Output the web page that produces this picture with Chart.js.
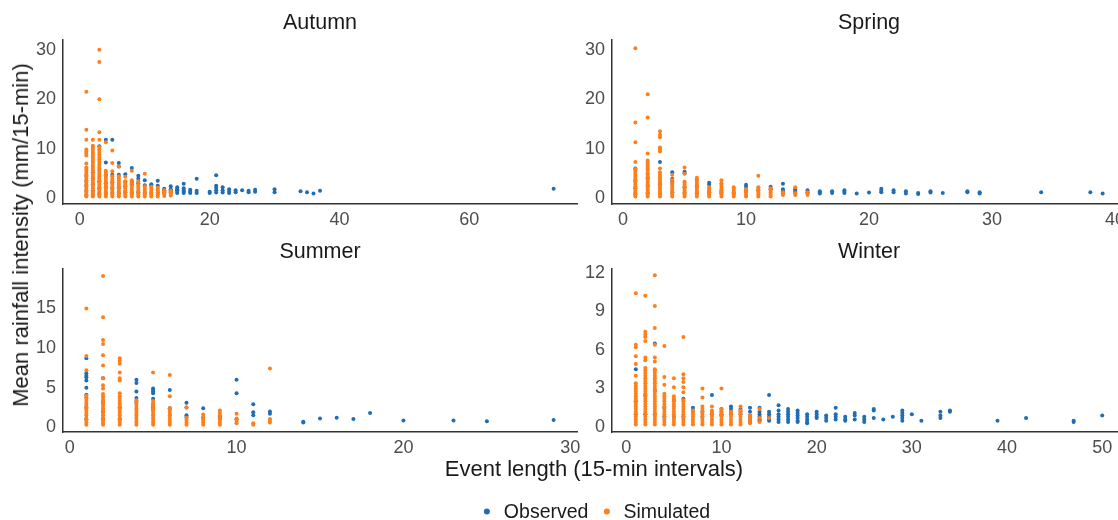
<!DOCTYPE html>
<html>
<head>
<meta charset="utf-8">
<script src="https://cdn.jsdelivr.net/npm/chart.js@4/dist/chart.umd.min.js"></script>
<style>
html,body{margin:0;padding:0;background:#fff;}
body{width:1118px;height:520px;position:relative;overflow:hidden;font-family:"Liberation Sans",Arial,Helvetica,sans-serif;}
canvas{position:absolute;}
.txt{position:absolute;white-space:nowrap;color:#1a1a1a;transform:translate(-50%,-50%);line-height:1;}
.ptitle{font-size:21.5px;}
.atitle{font-size:22px;}
.legend{position:absolute;left:597px;top:511px;transform:translate(-50%,-50%);font-size:19.5px;color:#1a1a1a;white-space:nowrap;display:flex;align-items:center;}
.dot{display:inline-block;width:6px;height:6px;border-radius:50%;margin:0 14px 0 0;}
</style>
</head>
<body>
<script>
// ---------------- DATA ----------------
const seriesNames = ["Observed", "Simulated"];
const seriesColors = ["#1f6db5", "#ff7f1a"];
const panelTitles = ["Autumn", "Spring", "Summer", "Winter"];

// x ticks / y ticks for each panel
const autumnXTicks = [0, 20, 40, 60];
const autumnYTicks = [0, 10, 20, 30];
const springXTicks = [0, 10, 20, 30, 40];
const springYTicks = [0, 10, 20, 30];
const summerXTicks = [0, 10, 20, 30];
const summerYTicks = [0, 5, 10, 15];
const winterXTicks = [0, 10, 20, 30, 40, 50];
const winterYTicks = [0, 3, 6, 9, 12];

// [event length, [mean intensities]]
const autumnSimulated = [
  [1, [0.3,0.7,1.1,1.5,1.9,2.3,2.7,3.1,3.5,3.9,4.3,4.7,5.1,5.5,5.9,6.2,7.0,8.6,9.0,9.4,9.8,11.8,13.8,21.5]],
  [2, [0.3,0.7,1.1,1.5,1.9,2.3,2.7,3.1,3.5,3.9,4.3,4.7,5.1,5.5,5.9,6.3,6.7,7.1,7.5,7.9,8.3,8.7,9.1,9.5,9.9,10.3,10.6,11.8]],
  [3, [0.3,0.7,1.1,1.5,1.9,2.3,2.7,3.1,3.5,3.9,4.3,4.7,5.1,5.5,5.9,6.3,6.8,7.3,7.8,8.3,8.8,9.3,9.8,10.3,11.8,13.3,20.0,27.5,30.0]],
  [4, [0.3,0.7,1.1,1.5,1.9,2.3,2.7,3.1,3.5,3.9,4.3,4.7,5.1,5.5,11.3]],
  [5, [0.3,0.7,1.1,1.5,1.9,2.3,2.7,3.1,3.5,3.9,4.4,5.4,7.1,9.6]],
  [6, [0.3,0.7,1.1,1.5,1.9,2.3,2.7,3.1,3.5,3.9,4.4,6.4]],
  [7, [0.3,0.7,1.1,1.5,1.9,2.3,2.7,3.1,3.4,4.3]],
  [8, [0.3,0.7,1.1,1.5,1.9,2.3,2.7,3.0,3.6,5.5]],
  [9, [0.3,0.7,1.1,1.5,1.9,2.3,2.7,3.4]],
  [10, [0.3,0.7,1.1,1.5,1.9,2.4,4.9]],
  [11, [0.3,0.7,1.1,1.5,1.9,2.3]],
  [12, [0.3,0.7,1.1,1.5,1.8,2.1]],
  [13, [0.4,0.8,1.2,1.6]],
  [14, [0.5,0.9,1.2,1.5]]
];
const autumnObserved = [
  [1, [0.5,1.5,2.5,3.5,4.5]],
  [2, [0.6,1.6,2.8,4.0,5.2]],
  [3, [0.8,2.0,3.4,10.5]],
  [4, [1.0,2.2,3.0,4.6,7.2,11.8]],
  [5, [1.0,2.0,3.2,4.7,11.8]],
  [6, [1.0,2.2,4.7,6.4,7.1]],
  [7, [1.2,2.4,3.3,4.8]],
  [8, [1.0,2.8,3.3,6.1]],
  [9, [1.2,3.0,3.9,4.5]],
  [10, [1.0,2.6,3.6]],
  [11, [1.0,2.5,2.8]],
  [12, [1.0,2.5,3.5]],
  [13, [1.0,1.3,1.6,1.9]],
  [14, [1.0,1.3,1.6,1.8,2.4]],
  [15, [1.0,1.3,1.6,1.8,2.2]],
  [16, [1.0,1.3,1.6,2.0,2.9]],
  [17, [1.0,1.3,1.7]],
  [18, [1.0,1.5,3.9]],
  [20, [1.0,1.3]],
  [21, [1.1,1.6,2.1,2.5,4.6]],
  [22, [1.1,1.6,2.2]],
  [23, [1.0,1.3,1.8]],
  [24, [1.2,1.6]],
  [25, [1.6]],
  [26, [1.2,1.5]],
  [27, [1.3,1.7]],
  [30, [1.2,1.8]],
  [34, [1.4]],
  [35, [1.2]],
  [36, [0.9]],
  [37, [1.5]],
  [73, [1.9]]
];

const springSimulated = [
  [1, [0.3,0.7,1.1,1.5,1.9,2.3,2.7,3.1,3.5,3.9,4.3,4.7,5.1,5.5,5.9,7.3,11.3,15.3,30.3]],
  [2, [0.3,0.7,1.1,1.5,1.9,2.3,2.7,3.1,3.5,3.9,4.3,4.7,5.0,5.6,6.0,6.4,6.8,7.2,7.6,9.0,16.3,21.0]],
  [3, [0.3,0.7,1.1,1.5,1.9,2.3,2.7,3.1,3.5,3.9,4.3,4.7,5.2,6.0,9.4,9.8,10.2,12.3,12.8,13.5]],
  [4, [0.3,0.7,1.1,1.5,1.9,2.3,2.7,3.0,3.7,4.7]],
  [5, [0.3,0.7,1.1,1.5,1.9,2.3,2.7,3.1,3.3,4.9,6.2]],
  [6, [0.3,0.7,1.1,1.5,1.9,2.3,2.7,3.1,3.5,3.8,4.1]],
  [7, [0.3,0.7,1.1,1.5,1.9,2.2]],
  [8, [0.3,0.7,1.1,1.5,1.9,2.3,2.7,3.0,3.6]],
  [9, [0.3,0.7,1.1,1.5,1.9,2.2]],
  [10, [0.3,0.7,1.1,1.5,1.8]],
  [11, [0.3,0.7,1.1,1.5,1.9,2.2,4.5]],
  [12, [0.3,0.7,1.1,1.5,2.0]],
  [13, [0.6,0.9,1.2]],
  [14, [0.6,1.0,2.2]],
  [15, [0.6,0.9,1.2]]
];
const springObserved = [
  [1, [0.8,2.0,3.5,6.0]],
  [2, [1.0,2.5,4.0]],
  [3, [1.0,2.8,7.3]],
  [4, [1.2,3.3,3.9,5.2]],
  [5, [1.0,2.2,5.0,5.3]],
  [6, [1.0,2.4]],
  [7, [1.2,2.7,3.1]],
  [8, [1.0,1.5]],
  [9, [1.0]],
  [10, [1.6,2.3,2.7]],
  [11, [1.6]],
  [12, [1.8,2.3]],
  [13, [1.0,1.4,1.8,2.9]],
  [14, [1.0,1.4,1.8]],
  [15, [1.2,1.6]],
  [16, [0.9,1.1,1.4]],
  [17, [1.0,1.4]],
  [18, [1.0,1.3,1.6]],
  [19, [0.9]],
  [20, [1.1]],
  [21, [1.2,1.5,1.9]],
  [22, [1.2,1.6]],
  [23, [0.9,1.4]],
  [24, [0.8,1.0]],
  [25, [1.1,1.4]],
  [26, [1.0]],
  [28, [1.2,1.4]],
  [29, [0.9,1.2]],
  [34, [1.2]],
  [38, [1.2]],
  [39, [0.9]]
];

const summerSimulated = [
  [1, [0.3,0.6,0.9,1.2,1.5,1.8,2.1,2.4,2.7,3.0,3.3,3.6,3.8,4.0,7.2,9.0,15.0]],
  [2, [0.3,0.6,0.9,1.2,1.5,1.8,2.1,2.4,2.7,3.0,3.3,3.6,3.9,4.2,4.9,5.3,6.2,7.8,9.1,10.5,11.0,13.9,19.1]],
  [3, [0.3,0.6,0.9,1.2,1.5,1.8,2.1,2.4,2.7,3.0,3.3,3.6,3.9,4.3,5.9,6.2,6.9,8.0,8.4,8.7]],
  [4, [0.3,0.6,0.9,1.2,1.5,1.8,2.1,2.4,2.7,3.0,3.4]],
  [5, [0.3,0.6,0.9,1.2,1.5,1.8,2.1,2.4,2.7,3.0,3.3,6.9]],
  [6, [0.3,0.6,0.9,1.2,1.5,1.8,2.1,2.4,3.9,6.6]],
  [7, [0.3,0.6,0.9,1.2,2.5]],
  [8, [0.3,0.6,0.9,1.2,1.6]],
  [9, [0.3,0.6,0.9,1.2,1.5,1.8,2.1]],
  [10, [0.5,0.8,1.1,1.7]],
  [11, [0.3,0.5]],
  [12, [0.6,0.8,1.05,7.4]]
];
const summerObserved = [
  [1, [1.0,2.5,4.1,5.0,5.9,6.3,6.5,6.8,8.7]],
  [2, [1.0,2.0,3.2,6.2]],
  [3, [1.0,2.5]],
  [4, [3.2,3.7,4.5,5.6,6.0]],
  [5, [2.2,2.5,2.8,3.6,4.3,4.5,4.7,4.9]],
  [6, [2.4,4.7]],
  [7, [1.3,1.5,2.5,3.1]],
  [8, [1.2,2.4]],
  [9, [1.1,1.4]],
  [10, [1.0,4.3,6.0]],
  [11, [1.5,1.9,2.9]],
  [12, [1.7,2.0]],
  [14, [0.6,0.7]],
  [15, [1.1]],
  [16, [1.2]],
  [17, [1.05]],
  [18, [1.8]],
  [20, [0.84]],
  [23, [0.84]],
  [25, [0.76]],
  [29, [0.92]]
];

const winterSimulated = [
  [1, [0.2,0.4,0.6,0.8,1.0,1.2,1.4,1.6,1.8,2.0,2.2,2.4,2.6,2.8,3.0,3.2,3.4,4.0,4.9,5.5,6.2,6.4,10.4]],
  [2, [0.2,0.4,0.6,0.8,1.0,1.2,1.4,1.6,1.8,2.0,2.2,2.4,2.6,2.8,3.0,3.2,3.4,3.6,3.8,4.0,4.2,4.4,4.6,5.2,5.4,6.7,7.0,7.2,7.4,10.2]],
  [3, [0.2,0.4,0.6,0.8,1.0,1.2,1.4,1.6,1.8,2.0,2.2,2.4,2.6,2.8,3.0,3.2,3.4,3.6,3.8,4.0,4.2,4.4,4.5,5.1,5.4,6.4,7.7,9.4,11.8]],
  [4, [0.2,0.4,0.6,0.8,1.0,1.2,1.4,1.6,1.8,2.0,2.2,2.4,2.6,3.3,3.9,6.3]],
  [5, [0.2,0.4,0.6,0.8,1.0,1.2,1.4,1.6,1.8,2.0,2.2,2.4,3.1,3.8]],
  [6, [0.2,0.4,0.6,0.8,1.0,1.2,1.4,1.6,1.8,2.0,2.1,2.7,3.1,3.5,3.8,4.1,7.0]],
  [7, [0.2,0.4,0.6,0.8,1.0,1.2,1.3]],
  [8, [0.2,0.4,0.6,0.8,1.0,1.2,1.4,1.6,2.3,3.0]],
  [9, [0.2,0.4,0.6,0.8,1.0,1.2,1.3,1.6]],
  [10, [0.2,0.4,0.6,0.8,1.0,1.2,1.4,3.0]],
  [11, [0.2,0.4,0.6,0.8,1.0,1.2]],
  [12, [0.2,0.4,0.6,0.8,1.0,1.2,1.3,1.6]],
  [13, [0.3,0.5,0.7,0.9]],
  [14, [0.4,0.7,1.4]],
  [15, [0.7]]
];
const winterObserved = [
  [1, [1.0,2.0,4.5]],
  [2, [1.0,2.5]],
  [3, [1.0,2.8,6.5]],
  [4, [0.8,1.5]],
  [5, [0.8,2.1]],
  [6, [0.8,2.2]],
  [7, [1.3,1.5]],
  [8, [0.8,1.2]],
  [9, [1.0,2.5]],
  [10, [0.9,1.0,1.2,1.4]],
  [11, [1.0,1.2,1.4,1.6]],
  [12, [1.0,1.2,1.4]],
  [13, [0.4,0.5,0.7,0.9,1.2,1.5]],
  [14, [0.5,0.6,0.8,1.0,1.2,1.5]],
  [15, [0.5,0.6,0.8,1.0,1.2,2.5]],
  [16, [0.4,0.6,0.8,1.0,1.3,1.7]],
  [17, [0.4,0.6,0.8,1.0,1.2,1.4]],
  [18, [0.4,0.5,0.7,0.9,1.1,1.3]],
  [19, [0.3,0.4,0.6,0.8,1.0]],
  [20, [0.7,0.8,1.0,1.2]],
  [21, [0.5,0.7,0.9]],
  [22, [0.6,0.8,1.0,1.5]],
  [23, [0.5,0.6,0.8]],
  [24, [0.6,0.9,1.1]],
  [25, [0.4,0.6,0.8]],
  [26, [0.7,1.3,1.4]],
  [27, [0.6]],
  [28, [0.8]],
  [29, [0.5,0.7,0.9,1.1,1.3]],
  [30, [1.0]],
  [31, [0.5]],
  [33, [0.7,0.9,1.2]],
  [34, [1.2,1.3]],
  [39, [0.5]],
  [42, [0.7]],
  [47, [0.4,0.5]],
  [50, [0.9]]
];

// ---------------- LAYOUT ----------------
const panels = [
  {title: panelTitles[0], obs: autumnObserved, sim: autumnSimulated, xt: autumnXTicks, yt: autumnYTicks,
   xmin: -2.6, xmax: 76.6, ymin: -1.2, ymax: 32.0, l: 63, t: 38, r: 577, b: 204},
  {title: panelTitles[1], obs: springObserved, sim: springSimulated, xt: springXTicks, yt: springYTicks,
   xmin: -0.9, xmax: 40.9, ymin: -1.2, ymax: 32.0, l: 612, t: 38, r: 1126, b: 204},
  {title: panelTitles[2], obs: summerObserved, sim: summerSimulated, xt: summerXTicks, yt: summerYTicks,
   xmin: -0.4, xmax: 30.4, ymin: -0.6, ymax: 20.0, l: 63, t: 267, r: 577, b: 432},
  {title: panelTitles[3], obs: winterObserved, sim: winterSimulated, xt: winterXTicks, yt: winterYTicks,
   xmin: -1.5, xmax: 52.5, ymin: -0.38, ymax: 12.3, l: 612, t: 267, r: 1126, b: 432}
];

const YW = 50, XH = 36, PT = 16, PR = 14;
const tickFont = {family: "'Liberation Sans', Arial, sans-serif", size: 18};
const tickColor = '#4d4d4d';
const axisColor = '#333333';

function flatten(groups) {
  const out = [];
  groups.forEach(([x, ys]) => ys.forEach(y => out.push({x: x, y: y})));
  return out;
}

function addText(cls, text, x, y, extra) {
  const d = document.createElement('div');
  d.className = 'txt ' + cls;
  d.textContent = text;
  d.style.left = x + 'px';
  d.style.top = y + 'px';
  if (extra) d.style.transform = extra;
  document.body.appendChild(d);
}

panels.forEach(p => {
  const c = document.createElement('canvas');
  const w = (p.r - p.l) + YW + PR;
  const h = (p.b - p.t) + PT + XH;
  c.width = w; c.height = h;
  c.style.left = (p.l - YW) + 'px';
  c.style.top = (p.t - PT) + 'px';
  c.style.width = w + 'px'; c.style.height = h + 'px';
  document.body.appendChild(c);

  new Chart(c.getContext('2d'), {
    type: 'scatter',
    data: {
      datasets: [
        {label: seriesNames[0], data: flatten(p.obs), order: 1,
         pointBackgroundColor: seriesColors[0], pointBorderWidth: 0, pointRadius: 2, pointHoverRadius: 2},
        {label: seriesNames[1], data: flatten(p.sim), order: 0,
         pointBackgroundColor: seriesColors[1], pointBorderWidth: 0, pointRadius: 2, pointHoverRadius: 2}
      ]
    },
    options: {
      responsive: false,
      animation: false,
      events: [],
      layout: {padding: {top: PT, right: PR, left: 0, bottom: 0}},
      plugins: {legend: {display: false}, tooltip: {enabled: false}, title: {display: false}},
      scales: {
        x: {
          type: 'linear', min: p.xmin, max: p.xmax,
          grid: {display: false, drawTicks: false},
          border: {display: true, color: axisColor, width: 1.5},
          ticks: {font: tickFont, color: tickColor, padding: 5, maxRotation: 0, autoSkip: false},
          afterBuildTicks: s => { s.ticks = p.xt.map(v => ({value: v})); },
          afterFit: s => { s.height = XH; }
        },
        y: {
          type: 'linear', min: p.ymin, max: p.ymax,
          grid: {display: false, drawTicks: false},
          border: {display: true, color: axisColor, width: 1.5},
          ticks: {font: tickFont, color: tickColor, padding: 7, autoSkip: false},
          afterBuildTicks: s => { s.ticks = p.yt.map(v => ({value: v})); },
          afterFit: s => { s.width = YW; }
        }
      }
    }
  });

  addText('ptitle', p.title, (p.l + p.r) / 2, p.t - 15);
});

addText('atitle', 'Event length (15-min intervals)', 594, 469);
addText('atitle', 'Mean rainfall intensity (mm/15-min)', 21, 235, 'translate(-50%,-50%) rotate(-90deg)');

const lg = document.createElement('div');
lg.className = 'legend';
seriesNames.forEach((n, i) => {
  const dot = document.createElement('span');
  dot.className = 'dot';
  dot.style.background = seriesColors[i];
  const t = document.createElement('span');
  t.textContent = n;
  t.style.marginRight = i === 0 ? '15px' : '0';
  lg.appendChild(dot); lg.appendChild(t);
});
document.body.appendChild(lg);
</script>
</body>
</html>
